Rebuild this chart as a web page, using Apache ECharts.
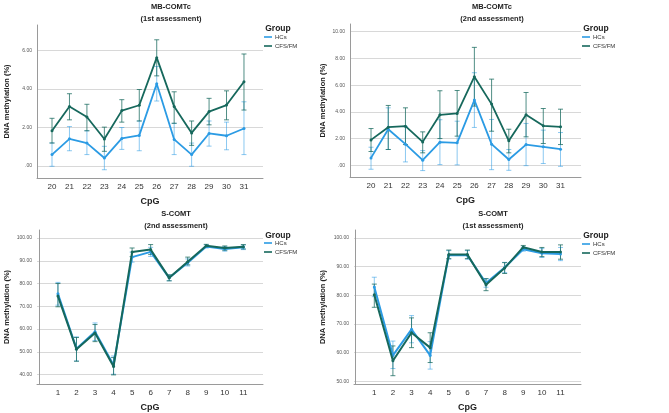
<!DOCTYPE html>
<html>
<head>
<meta charset="utf-8">
<script src="https://cdn.jsdelivr.net/npm/echarts@6/dist/echarts.min.js"></script>
<style>
  html, body { margin: 0; padding: 0; background: #fff; }
  #chart { width: 669px; height: 413px; }
</style>
</head>
<body>
<div id="chart"></div>
<script>
// CpG positions
var cpgMB = [20, 21, 22, 23, 24, 25, 26, 27, 28, 29, 30, 31];
var cpgS = [1, 2, 3, 4, 5, 6, 7, 8, 9, 10, 11];

// MB-COMTc, 1st assessment
var mb1Hc   = [0.59, 1.41, 1.19, 0.41, 1.43, 1.59, 4.28, 1.38, 0.59, 1.69, 1.57, 1.95];
var mb1HcLo = [-0.02, 0.79, 0.59, -0.20, 0.86, 0.79, 3.38, 0.59, -0.02, 1.03, 0.84, 0.59];
var mb1HcHi = [1.20, 2.05, 1.83, 1.02, 2.00, 2.34, 5.18, 2.22, 1.19, 2.34, 2.28, 3.34];
var mb1Cf   = [1.83, 3.09, 2.55, 1.40, 2.88, 3.16, 5.64, 3.09, 1.72, 2.83, 3.17, 4.38];
var mb1CfLo = [1.19, 2.40, 1.83, 0.76, 2.28, 2.34, 4.69, 2.22, 1.07, 2.14, 2.40, 2.91];
var mb1CfHi = [2.48, 3.76, 3.21, 2.02, 3.45, 3.98, 6.57, 3.86, 2.34, 3.52, 3.91, 5.83];

// MB-COMTc, 2nd assessment
var mb2Hc   = [0.55, 2.70, 1.58, 0.38, 1.73, 1.68, 4.88, 1.58, 0.43, 1.55, 1.38, 1.20];
var mb2HcLo = [-0.30, 1.18, 0.25, -0.40, 0.05, 0.03, 2.83, -0.33, -0.38, -0.03, 0.13, -0.08];
var mb2HcHi = [1.35, 4.30, 2.91, 1.10, 3.41, 3.30, 6.93, 3.43, 1.18, 3.13, 2.63, 2.45];
var mb2Cf   = [1.90, 2.85, 2.93, 1.75, 3.78, 3.88, 6.63, 4.58, 1.83, 3.78, 2.95, 2.88];
var mb2CfLo = [1.03, 1.18, 1.55, 0.93, 2.00, 2.18, 4.43, 2.55, 0.93, 2.13, 1.63, 1.55];
var mb2CfHi = [2.75, 4.48, 4.30, 2.50, 5.58, 5.60, 8.83, 6.45, 2.70, 5.45, 4.25, 4.20];

// S-COMT, 2nd assessment
var s2Hc   = [75.5, 51.4, 58.8, 44.2, 91.6, 93.9, 82.5, 89.1, 96.3, 95.2, 95.9];
var s2HcLo = [70.5, 46.0, 55.0, 40.2, 89.4, 91.9, 81.2, 87.7, 95.6, 94.2, 94.9];
var s2HcHi = [80.5, 56.6, 62.7, 48.2, 93.8, 95.9, 83.8, 90.8, 97.0, 96.2, 96.9];
var s2Cf   = [74.5, 51.2, 58.3, 43.6, 93.8, 94.9, 82.5, 89.6, 96.6, 95.6, 96.2];
var s2CfLo = [69.8, 45.9, 54.5, 39.9, 91.8, 92.8, 81.2, 88.2, 95.9, 94.6, 95.2];
var s2CfHi = [80.0, 56.3, 62.0, 47.5, 95.6, 97.1, 83.8, 91.6, 97.2, 96.5, 97.1];

// S-COMT, 1st assessment
var s1Hc   = [82.9, 59.0, 68.1, 59.0, 94.0, 94.0, 84.3, 89.7, 96.1, 94.7, 94.4];
var s1HcLo = [79.5, 54.4, 63.4, 54.2, 92.6, 92.6, 82.8, 87.9, 95.4, 93.2, 92.1];
var s1HcHi = [86.3, 64.0, 72.9, 63.8, 95.6, 95.6, 85.8, 91.5, 96.8, 96.3, 96.7];
var s1Cf   = [80.2, 57.1, 66.9, 61.7, 94.2, 94.2, 83.7, 89.5, 96.8, 95.1, 95.1];
var s1CfLo = [75.8, 51.9, 61.7, 56.5, 92.8, 92.8, 81.6, 87.6, 96.2, 93.5, 92.6];
var s1CfHi = [83.9, 62.3, 72.1, 66.9, 95.8, 95.8, 85.8, 91.4, 97.4, 96.7, 97.6];

// tick labels
var yTicksMB1 = [0, 2, 4, 6];
var yTicksMB2 = [0, 2, 4, 6, 8, 10];
var yTicksS2 = [40, 50, 60, 70, 80, 90, 100];
var yTicksS1 = [50, 60, 70, 80, 90, 100];

var colHc = '#2b9be4';
var colCf = '#16685c';
var errHc = 'rgba(43,155,228,0.55)';
var errCf = 'rgba(22,104,92,0.75)';
var FONT = '"Liberation Sans", Arial, sans-serif';

function pairs(xs, ys) {
    return xs.map(function (x, i) { return [x, ys[i]]; });
}
function triples(xs, lo, hi) {
    return xs.map(function (x, i) { return [x, lo[i], hi[i]]; });
}

// vertical error bar with caps
function errorBar(color) {
    return function (params, api) {
        var x = api.value(0);
        var lo = api.coord([x, api.value(1)]);
        var hi = api.coord([x, api.value(2)]);
        var w = 2.5;
        var st = { stroke: color, lineWidth: 1 };
        return {
            type: 'group',
            children: [
                { type: 'line', shape: { x1: lo[0], y1: lo[1], x2: hi[0], y2: hi[1] }, style: st },
                { type: 'line', shape: { x1: lo[0] - w, y1: lo[1], x2: lo[0] + w, y2: lo[1] }, style: st },
                { type: 'line', shape: { x1: hi[0] - w, y1: hi[1], x2: hi[0] + w, y2: hi[1] }, style: st }
            ]
        };
    };
}

function panelSeries(idx, xs, hc, hcLo, hcHi, cf, cfLo, cfHi, lw) {
    return [
        {
            name: 'HCs err', type: 'custom', xAxisIndex: idx, yAxisIndex: idx,
            renderItem: errorBar(errHc), encode: { x: 0, y: [1, 2] },
            data: triples(xs, hcLo, hcHi), z: 1
        },
        {
            name: 'CFS/FM err', type: 'custom', xAxisIndex: idx, yAxisIndex: idx,
            renderItem: errorBar(errCf), encode: { x: 0, y: [1, 2] },
            data: triples(xs, cfLo, cfHi), z: 1
        },
        {
            name: 'HCs', type: 'line', xAxisIndex: idx, yAxisIndex: idx,
            data: pairs(xs, hc), symbol: 'circle', symbolSize: 3,
            itemStyle: { color: colHc }, lineStyle: { color: colHc, width: lw },
            z: 3
        },
        {
            name: 'CFS/FM', type: 'line', xAxisIndex: idx, yAxisIndex: idx,
            data: pairs(xs, cf), symbol: 'circle', symbolSize: 3,
            itemStyle: { color: colCf }, lineStyle: { color: colCf, width: lw },
            z: 4
        }
    ];
}

function fmtY(v) {
    if (v === 0) return '.00';
    return v.toFixed(2);
}

function makeX(idx, min, max, ticks) {
    return {
        gridIndex: idx, type: 'value', min: min, max: max,
        name: 'CpG', nameLocation: 'middle', nameGap: 19,
        nameTextStyle: { fontFamily: FONT, fontSize: 9, fontWeight: 'bold', color: '#222' },
        axisLine: { show: true, onZero: false, lineStyle: { color: '#9a9a9a', width: 1 } },
        axisTick: { show: false, customValues: ticks },
        axisLabel: { customValues: ticks, fontFamily: FONT, fontSize: 8, color: '#333', margin: 5 },
        splitLine: { show: false }
    };
}

function makeY(idx, min, max, ticks, gap) {
    return {
        gridIndex: idx, type: 'value', min: min, max: max,
        name: 'DNA methylation (%)', nameLocation: 'middle', nameGap: gap,
        nameTextStyle: { fontFamily: FONT, fontSize: 7.5, fontWeight: 'bold', color: '#222' },
        axisLine: { show: true, lineStyle: { color: '#9a9a9a', width: 1 } },
        axisTick: { show: false, customValues: ticks },
        axisLabel: { customValues: ticks, formatter: fmtY, fontFamily: FONT, fontSize: 5, color: '#555', margin: 5 },
        splitLine: { show: true, lineStyle: { color: '#d8d8d8', width: 1 } }
    };
}

function makeLegend(left, top) {
    return {
        left: left, top: top, orient: 'vertical',
        data: ['HCs', 'CFS/FM'], icon: 'rect',
        itemWidth: 8, itemHeight: 1.6, itemGap: 3,
        textStyle: { fontFamily: FONT, fontSize: 6, color: '#333', padding: [0, 0, 0, -2] },
        padding: 0
    };
}

function label(x, y, text, size, weight) {
    return {
        type: 'text', x: x, y: y,
        style: { text: text, font: weight + ' ' + size + 'px ' + FONT, fill: '#222', textAlign: 'center', textVerticalAlign: 'middle' }
    };
}

var chartDom = document.getElementById('chart');
var myChart = echarts.init(chartDom, null, { renderer: 'canvas' });

var option = {
    animation: false,
    backgroundColor: '#fff',
    grid: [
        { left: 37, top: 25, width: 226, height: 153 },
        { left: 350, top: 24, width: 231, height: 153 },
        { left: 37, top: 230, width: 226, height: 155 },
        { left: 354, top: 230, width: 227, height: 155 }
    ],
    xAxis: [
        makeX(0, 19.14, 32.09, cpgMB),
        makeX(1, 18.78, 32.19, cpgMB),
        makeX(2, -0.13, 12.06, cpgS),
        makeX(3, -0.09, 12.1, cpgS)
    ],
    yAxis: [
        makeY(0, -0.63, 7.34, yTicksMB1, 26),
        makeY(1, -0.88, 10.58, yTicksMB2, 23),
        makeY(2, 35.9, 103.5, yTicksS2, 26),
        makeY(3, 49.0, 102.8, yTicksS1, 27)
    ],
    legend: [
        makeLegend(264, 34),
        makeLegend(582, 34),
        makeLegend(264, 240),
        makeLegend(582, 241)
    ],
    graphic: [
        label(171, 7, 'MB-COMTc', 7.5, 'bold'),
        label(171, 19, '(1st assessment)', 7.5, 'bold'),
        label(492, 7, 'MB-COMTc', 7.5, 'bold'),
        label(492, 19, '(2nd assessment)', 7.5, 'bold'),
        label(176, 214, 'S-COMT', 7.5, 'bold'),
        label(176, 226, '(2nd assessment)', 7.5, 'bold'),
        label(493, 214, 'S-COMT', 7.5, 'bold'),
        label(493, 226, '(1st assessment)', 7.5, 'bold'),
        label(278, 29, 'Group', 8.5, 'bold'),
        label(596, 29, 'Group', 8.5, 'bold'),
        label(278, 236, 'Group', 8.5, 'bold'),
        label(596, 236, 'Group', 8.5, 'bold')
    ],
    series: [].concat(
        panelSeries(0, cpgMB, mb1Hc, mb1HcLo, mb1HcHi, mb1Cf, mb1CfLo, mb1CfHi, 1.8),
        panelSeries(1, cpgMB, mb2Hc, mb2HcLo, mb2HcHi, mb2Cf, mb2CfLo, mb2CfHi, 1.8),
        panelSeries(2, cpgS, s2Hc, s2HcLo, s2HcHi, s2Cf, s2CfLo, s2CfHi, 2),
        panelSeries(3, cpgS, s1Hc, s1HcLo, s1HcHi, s1Cf, s1CfLo, s1CfHi, 2)
    )
};

myChart.setOption(option);
</script>
</body>
</html>
